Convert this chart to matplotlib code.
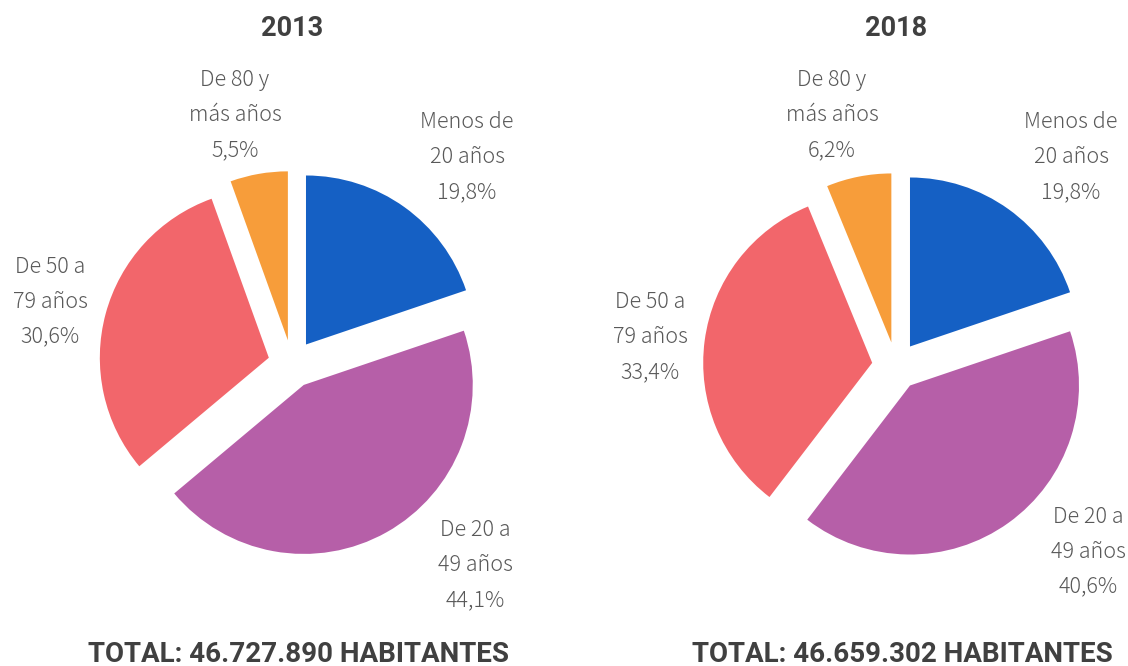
import matplotlib.pyplot as plt

categories = ["Menos de\n20 años", "De 20 a\n49 años", "De 50 a\n79 años", "De 80 y\nmás años"]
years = ["2013", "2018"]
shares_2013 = [19.8, 44.1, 30.6, 5.5]
shares_2018 = [19.8, 40.6, 33.4, 6.2]
totals = ["46.727.890", "46.659.302"]

colors = ["#1560C4", "#B65FA8", "#F2666B", "#F79D3A"]
text_color = "#595959"

# layout in pixel units (y up)
W, H = 1128, 666
centers = [(292, H - 364), (896, H - 366)]
radius = 169
gap = 24  # explode offset, pixels
label_pos = [
    [(467, H - 157), (475, H - 565), (50, H - 302), (235, H - 115)],
    [(1071, H - 157), (1088, H - 552), (650, H - 337), (832, H - 115)],
]

fig = plt.figure(figsize=(W / 100, H / 100), dpi=100)
ax = fig.add_axes([0, 0, 1, 1])

for i, shares in enumerate([shares_2013, shares_2018]):
    ax.pie(shares, colors=colors, startangle=90, counterclock=False,
           explode=[gap] * 4, center=centers[i], radius=radius,
           wedgeprops=dict(linewidth=0), frame=True)
    for cat, val, pos in zip(categories, shares, label_pos[i]):
        txt = f"{cat}\n{val:.1f}%".replace(".", ",")
        ax.text(pos[0], pos[1], txt, ha="center", va="center", fontsize=15.5,
                color=text_color, linespacing=1.75,
                family=["Noto Sans CJK JP", "DejaVu Sans"], fontweight="light")
    cx = centers[i][0]
    ax.text(cx, H - 28, years[i], ha="center", va="center", fontsize=19.5,
            fontweight="bold", color="#404040", family="Roboto")
    ax.text(cx + 6, H - 654, f"TOTAL: {totals[i]} HABITANTES", ha="center",
            va="center", fontsize=20, fontweight="bold", color="#404040",
            family="Roboto")

ax.set_xlim(0, W)
ax.set_ylim(0, H)
ax.axis("off")
fig.savefig("out.png", dpi=100)
